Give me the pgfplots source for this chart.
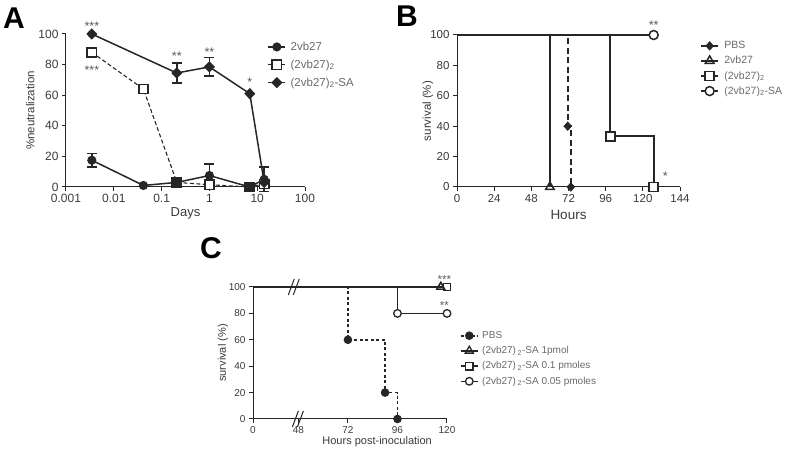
\documentclass[border=0pt]{standalone}
\usepackage{fontspec}
\setmainfont{Liberation Sans}
\usepackage{pgfplots}
\pgfplotsset{compat=1.18}
\definecolor{dk}{HTML}{262626}
\definecolor{tk}{HTML}{3A3A3A}
\definecolor{lg}{HTML}{6A6A6A}
\definecolor{st}{HTML}{5A5A5A}
\pgfplotsset{
  myaxis/.style={
    scale only axis, axis lines=left, clip=false, enlargelimits=false,
    axis line style={dk, line width=1pt, -},
    tick align=outside, major tick length=4pt,
    every tick/.style={dk, line width=1pt},
    tick label style={text=tk},
    /pgf/number format/assume math mode=true,
    legend cell align=left,
    error bars/error bar style={dk, line width=1.4pt, solid},
    error bars/error mark options={dk, rotate=90, mark size=5pt, line width=1.4pt, solid},
  }
}
\begin{document}
\begin{tikzpicture}[x=1pt,y=1pt]
\path[use as bounding box] (0,0) rectangle (787,452);
\node[inner sep=0pt, font=\fontsize{30}{30}\selectfont\bfseries] at (14,434) {A};
\node[inner sep=0pt, font=\fontsize{30}{30}\selectfont\bfseries] at (407,436) {B};
\node[inner sep=0pt, font=\fontsize{30}{30}\selectfont\bfseries] at (211,204) {C};

% ---------------- Panel A ----------------
\begin{axis}[myaxis, at={(66pt,265pt)}, anchor=south west,
  width=239pt, height=153pt,
  xmode=log, xmin=0.001, xmax=100, ymin=0, ymax=100,
  xtick={0.001,0.01,0.1,1,10,100},
  xticklabels={0.001,0.01,0.1,1,10,100},
  xminorticks=false,
  ytick={0,20,40,60,80,100},
  tick label style={font=\fontsize{12}{14}\selectfont},
  xlabel={Days}, ylabel={\%neutralization},
  xlabel style={font=\fontsize{13}{15}\selectfont, text=tk, at={(axis description cs:0.5,-0.17)}, anchor=center},
  ylabel style={font=\fontsize{11.5}{13}\selectfont, text=tk, at={(axis description cs:-0.15,0.5)}, anchor=center, rotate=0},
  legend style={at={(axis description cs:0.83,0.975)}, anchor=north west, draw=none, fill=none,
    font=\fontsize{11.5}{13}\selectfont, text=lg, row sep=4pt, column sep=2.5pt},
  legend image code/.code={\draw[#1] (0cm,0cm) -- (0.6cm,0cm); \draw[#1, mark indices={1}] plot coordinates {(0.3cm,0cm)};},
]
% error bars
\addplot[forget plot, only marks, mark=none, error bars/.cd, y dir=both, y explicit]
  coordinates {(0.00347,17.5) +- (0,4.5) (1,7.5) +- (0,7.5) (14,5) +- (0,8)
               (0.208,74.5) +- (0,6.5) (1,78.5) +- (0,6)};
\addplot[dk, solid, line width=1.5pt, mark=*, mark size=3.8pt, mark options={solid, fill=dk}]
  coordinates {(0.00347,17.5) (0.0417,1) (0.208,3) (1,7.5) (7,0) (14,5)};
\addlegendentry{2vb27}
\addplot[dk, line width=1.1pt, dash pattern=on 4pt off 2.5pt, mark=square*, mark size=4.6pt,
  mark options={solid, fill=white, line width=1.6pt}]
  coordinates {(0.00347,88) (0.0417,64) (0.208,3) (1,1.5) (7,0) (14,2)};
\addlegendentry{(2vb27)\textsubscript{2}}
\addplot[dk, solid, line width=1.5pt, mark=diamond*, mark size=4.6pt, mark options={solid, fill=dk, xscale=1.3}]
  coordinates {(0.00347,100) (0.208,74.5) (1,78.5) (7,61) (14,3)};
\addlegendentry{(2vb27)\textsubscript{2}-SA}
\addplot[forget plot, only marks, dk, mark=*, mark size=3.8pt, mark options={fill=dk}]
  coordinates {(0.208,3) (7,0) (14,5)};
\addplot[forget plot, only marks, dk, mark=square*, mark size=4pt, mark options={fill=dk}]
  coordinates {(0.208,3) (7,0)};
\node[anchor=base, text=st, font=\fontsize{12.5}{14}\selectfont] at (axis cs:0.00347,102.2) {***};
\node[anchor=base, text=st, font=\fontsize{12.5}{14}\selectfont] at (axis cs:0.00347,73.2) {***};
\node[anchor=base, text=st, font=\fontsize{12.5}{14}\selectfont] at (axis cs:0.208,83) {**};
\node[anchor=base, text=st, font=\fontsize{12.5}{14}\selectfont] at (axis cs:1,85.4) {**};
\node[anchor=base, text=st, font=\fontsize{12.5}{14}\selectfont] at (axis cs:7,65.4) {*};
\end{axis}

% ---------------- Panel B ----------------
\begin{axis}[myaxis, at={(457pt,265pt)}, anchor=south west,
  width=223pt, height=152pt,
  xmin=0, xmax=144, ymin=0, ymax=100,
  xtick={0,24,48,72,96,120,144},
  ytick={0,20,40,60,80,100},
  tick label style={font=\fontsize{11.5}{13}\selectfont},
  xlabel={Hours}, ylabel={survival (\%)},
  xlabel style={font=\fontsize{13.5}{15}\selectfont, text=tk, at={(axis description cs:0.5,-0.185)}, anchor=center},
  ylabel style={font=\fontsize{11.5}{13}\selectfont, text=tk, at={(axis description cs:-0.13,0.5)}, anchor=center, rotate=0},
  legend style={at={(axis description cs:1.075,0.985)}, anchor=north west, draw=none, fill=none,
    font=\fontsize{10.5}{12}\selectfont, text=lg, row sep=2pt, column sep=3pt},
  legend image code/.code={\draw[#1, solid] (0cm,0cm) -- (0.6cm,0cm); \draw[#1, mark indices={1}] plot coordinates {(0.3cm,0cm)};},
]
\addplot[dk, line width=2.4pt, dash pattern=on 6pt off 3.5pt, mark=diamond*, mark size=4pt,
  mark options={solid, fill=dk, line width=1pt, xscale=1.2}, mark indices={3,5}]
  coordinates {(0,100) (71.5,100) (71.5,40) (73.5,40) (73.5,0)};
\addlegendentry{PBS}
\addplot[dk, solid, line width=1.8pt, mark=triangle, mark size=5pt, mark options={solid, fill=white, line width=1.5pt}, mark indices={3}]
  coordinates {(0,100) (60,100) (60,0)};
\addlegendentry{2vb27}
\addplot[dk, solid, line width=1.8pt, mark=square*, mark size=4.5pt, mark options={solid, fill=white, line width=1.5pt}, mark indices={3,5}]
  coordinates {(0,100) (99,100) (99,33.3) (127,33.3) (127,0)};
\addlegendentry{(2vb27)\textsubscript{2}}
\addplot[dk, solid, line width=1.8pt, mark=*, mark size=4.5pt, mark options={solid, fill=white, line width=1.5pt}, mark indices={2}]
  coordinates {(0,100) (127,100)};
\addlegendentry{(2vb27)\textsubscript{2}-SA}
\node[anchor=base, text=st, font=\fontsize{12.5}{14}\selectfont] at (axis cs:127,103.4) {**};
\node[anchor=base, text=st, font=\fontsize{12.5}{14}\selectfont] at (axis cs:134.5,4.4) {*};
\end{axis}

% ---------------- Panel C ----------------
\begin{axis}[myaxis, at={(253pt,33pt)}, anchor=south west,
  width=194pt, height=132pt,
  xmin=0, xmax=94, ymin=0, ymax=100,
  xtick={0,22,46,70,94},
  xticklabels={0,48,72,96,120},
  ytick={0,20,40,60,80,100},
  tick label style={font=\fontsize{10}{12}\selectfont},
  xlabel={Hours post-inoculation}, ylabel={survival (\%)},
  xlabel style={font=\fontsize{11}{13}\selectfont, text=tk, at={(axis description cs:0.64,-0.175)}, anchor=center},
  ylabel style={font=\fontsize{11}{13}\selectfont, text=tk, at={(axis description cs:-0.155,0.5)}, anchor=center, rotate=0},
  legend style={at={(axis description cs:1.05,0.695)}, anchor=north west, draw=none, fill=none,
    font=\fontsize{10}{12}\selectfont, text=lg, row sep=2.5pt, column sep=1.5pt},
  legend image code/.code={\draw[#1] (0cm,0cm) -- (0.6cm,0cm); \draw[#1, mark indices={1}] plot coordinates {(0.3cm,0cm)};},
]
\addplot[dk, line width=1.7pt, dash pattern=on 3pt off 2.5pt, mark=*, mark size=3.4pt,
  mark options={solid, fill=dk}, mark indices={3,5,7}]
  coordinates {(0,100) (46,100) (46,60) (64,60) (64,20) (70,20) (70,0)};
\addlegendentry{PBS}
\addplot[dk, solid, line width=1.5pt, mark=triangle, mark size=4.6pt, mark options={solid, fill=white, line width=1.3pt}, mark indices={2}]
  coordinates {(0,100) (91,100)};
\addlegendentry{(2vb27)\,\textsubscript{2}-SA 1pmol}
\addplot[dk, solid, line width=1.5pt, mark=square*, mark size=3.8pt, mark options={solid, fill=white, line width=1.3pt}, mark indices={2}]
  coordinates {(0,100) (94,100)};
\addlegendentry{(2vb27)\,\textsubscript{2}-SA 0.1 pmoles}
\addplot[dk, solid, line width=1.5pt, mark=*, mark size=3.8pt, mark options={solid, fill=white, line width=1.3pt}, mark indices={3,4}]
  coordinates {(0,100) (70,100) (70,80) (94,80)};
\addlegendentry{(2vb27)\,\textsubscript{2}-SA 0.05 pmoles}
\addplot[forget plot, only marks, dk, mark=triangle, mark size=4.6pt, mark options={solid, fill=white, line width=1.3pt}]
  coordinates {(91,100)};
% axis break marks
\draw[dk, line width=1pt] ([xshift=-5pt,yshift=-8pt]axis cs:21.5,0) -- ([xshift=1pt,yshift=8pt]axis cs:21.5,0);
\draw[dk, line width=1pt] ([xshift=0pt,yshift=-8pt]axis cs:21.5,0) -- ([xshift=6pt,yshift=8pt]axis cs:21.5,0);
\draw[dk, line width=1pt] ([xshift=-6pt,yshift=-8pt]axis cs:20,100) -- ([xshift=0pt,yshift=8pt]axis cs:20,100);
\draw[dk, line width=1pt] ([xshift=-1pt,yshift=-8pt]axis cs:20,100) -- ([xshift=5pt,yshift=8pt]axis cs:20,100);
\node[anchor=base, text=st, font=\fontsize{11.5}{13}\selectfont] at (axis cs:92.7,102.8) {***};
\node[anchor=base, text=st, font=\fontsize{11.5}{13}\selectfont] at (axis cs:92.7,83.2) {**};
\end{axis}
\end{tikzpicture}
\end{document}
